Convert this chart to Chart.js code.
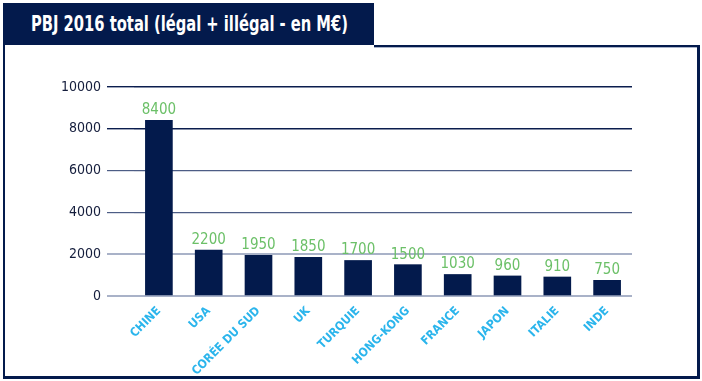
<!DOCTYPE html>
<html>
<head>
<meta charset="utf-8">
<script src="https://cdn.jsdelivr.net/npm/chart.js@4.4.1/dist/chart.umd.min.js"></script>
<style>
  html, body { margin: 0; padding: 0; background: #fff; }
  #wrap { position: relative; width: 702px; height: 381px; overflow: hidden; }
  .navy { position: absolute; background: #031a4c; }
  #title { position: absolute; left: 3px; top: 3px; width: 371px; height: 42px; background: #031a4c; }
  #titleText { position: absolute; left: 28px; top: 9px; color: #fff; font-family: "Liberation Sans Narrow", "DejaVu Sans Condensed", sans-serif; font-weight: bold; font-size: 21px; white-space: nowrap; transform-origin: 0 50%; line-height: 24px; }
  canvas { position: absolute; left: 0; top: 0; }
</style>
</head>
<body>
<div id="wrap">
  <div class="navy" style="left:3px;top:3px;width:2px;height:376px;"></div>
  <div class="navy" style="left:3px;top:376px;width:697px;height:3px;"></div>
  <div class="navy" style="left:697px;top:45px;width:3px;height:334px;"></div>
  <div class="navy" style="left:374px;top:45px;width:326px;height:2px;"></div>
  <div style="position:absolute;left:374px;top:47px;width:323px;height:1px;background:#a9b3c9;"></div>
  <div id="title"><span id="titleText">PBJ 2016 total (légal + illégal - en M€)</span></div>
  <canvas id="c" width="702" height="381"></canvas>
</div>
<script>
const categories = ["CHINE", "USA", "CORÉE DU SUD", "UK", "TURQUIE", "HONG-KONG", "FRANCE", "JAPON", "ITALIE", "INDE"];
const values = [8400, 2200, 1950, 1850, 1700, 1500, 1030, 960, 910, 750];
const yTicks = [0, 2000, 4000, 6000, 8000, 10000];
const titleText = "PBJ 2016 total (légal + illégal - en M€)";

document.getElementById('titleText').textContent = titleText;
(function fitTitle(){
  const el = document.getElementById('titleText');
  const w = el.getBoundingClientRect().width;
  const target = 317;
  el.style.transform = 'scaleX(' + (target / w) + ')';
})();

const FONT = '"Liberation Sans Narrow", "DejaVu Sans Condensed", sans-serif';
const gridColors = { 0: '#a9b2c8', 2000: '#a9b2c8', 4000: '#4d5d85', 6000: '#4d5d85', 8000: '#0b1d4e', 10000: '#0b1d4e' };
const gridWidths = { 0: 2, 2000: 2, 4000: 1.2, 6000: 1.2, 8000: 1.4, 10000: 1.4 };

const valueLabels = {
  id: 'valueLabels',
  afterDatasetsDraw(chart) {
    const ctx = chart.ctx;
    const meta = chart.getDatasetMeta(0);
    ctx.save();
    ctx.font = '15px ' + FONT;
    ctx.fillStyle = '#6cc068';
    ctx.textAlign = 'center';
    ctx.textBaseline = 'alphabetic';
    meta.data.forEach((bar, i) => {
      ctx.fillText(String(chart.data.datasets[0].data[i]), bar.x, bar.y - 6);
    });
    ctx.restore();
  }
};

new Chart(document.getElementById('c'), {
  type: 'bar',
  data: {
    labels: categories,
    datasets: [{
      data: values,
      backgroundColor: '#031a4c',
      borderWidth: 0,
      barThickness: 27
    }]
  },
  options: {
    responsive: false,
    animation: false,
    devicePixelRatio: 1,
    layout: { padding: { left: 0, right: 70, top: 87, bottom: 0 } },
    plugins: { legend: { display: false }, tooltip: { enabled: false }, title: { display: false } },
    scales: {
      x: {
        grid: { display: false, drawTicks: false },
        border: { display: false },
        ticks: {
          autoSkip: false,
          minRotation: 45,
          maxRotation: 45,
          padding: 8,
          color: '#2bb5ec',
          font: { family: FONT, size: 12, weight: 'bold' }
        },
        afterFit(scale) { scale.height = 85; }
      },
      y: {
        min: 0,
        max: 10000,
        afterBuildTicks(scale) { scale.ticks = yTicks.map(v => ({ value: v })); },
        grid: {
          drawTicks: true,
          tickLength: 27,
          color: ctx => gridColors[ctx.tick.value] || '#a9b2c8',
          lineWidth: ctx => gridWidths[ctx.tick.value] || 1
        },
        border: { display: false },
        ticks: {
          padding: 6,
          color: '#141d3c',
          font: { family: FONT, size: 14 },
          callback: v => String(v)
        },
        afterFit(scale) { scale.width = 134; }
      }
    }
  },
  plugins: [valueLabels]
});
</script>
</body>
</html>
